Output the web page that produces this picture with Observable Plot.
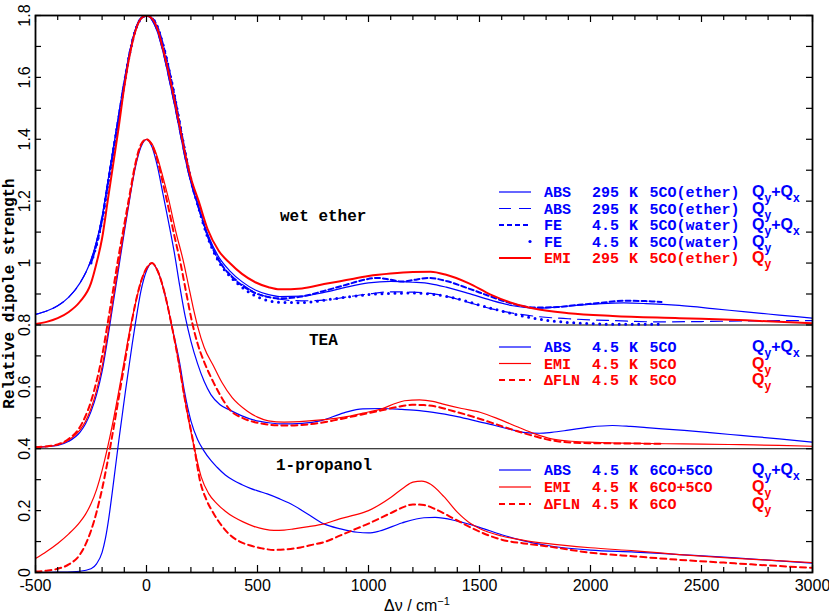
<!DOCTYPE html>
<html>
<head>
<meta charset="utf-8">
<script src="https://cdn.jsdelivr.net/npm/d3@7"></script>
<script src="https://cdn.jsdelivr.net/npm/@observablehq/plot@0.6"></script>
<style>
html,body{margin:0;padding:0;background:#fff;}
#chart{width:829px;height:616px;}
</style>
</head>
<body>
<div id="chart"></div>
<script>
// ---------------- data ----------------
const xTickLabels = [-500, 0, 500, 1000, 1500, 2000, 2500, 3000];
const yTickLabels = [0, 0.2, 0.4, 0.6, 0.8, 1, 1.2, 1.4, 1.6, 1.8];
const panelBreaks = [0.4, 0.8];
const panelNames = ["wet ether", "TEA", "1-propanol"];

// wet ether panel
const etherAbsQyQx = [[-500,0.834],[-450,0.845],[-400,0.862],[-350,0.89],[-300,0.935],[-250,1.01],[-225,1.07],[-200,1.15],[-175,1.26],[-150,1.37],[-125,1.48],[-100,1.59],[-75,1.685],[-50,1.755],[-25,1.792],[0,1.80],[25,1.785],[50,1.745],[75,1.68],[100,1.60],[125,1.515],[150,1.425],[175,1.335],[200,1.26],[235,1.18],[275,1.095],[325,1.02],[375,0.975],[430,0.94],[490,0.913],[550,0.898],[600,0.892],[700,0.893],[800,0.905],[900,0.922],[1000,0.936],[1100,0.941],[1200,0.938],[1280,0.933],[1350,0.922],[1450,0.902],[1550,0.88],[1650,0.862],[1750,0.854],[1850,0.858],[1950,0.864],[2050,0.869],[2150,0.871],[2250,0.869],[2400,0.863],[2550,0.853],[2700,0.842],[2850,0.832],[3000,0.822]];
const etherAbsQy = [[-500,0.834],[-450,0.845],[-400,0.862],[-350,0.89],[-300,0.935],[-250,1.01],[-225,1.07],[-200,1.15],[-175,1.26],[-150,1.37],[-125,1.48],[-100,1.59],[-75,1.685],[-50,1.755],[-25,1.792],[0,1.80],[25,1.785],[50,1.745],[75,1.68],[100,1.60],[125,1.515],[150,1.425],[175,1.335],[200,1.26],[235,1.175],[275,1.09],[325,1.01],[375,0.965],[430,0.932],[490,0.905],[550,0.89],[600,0.883],[700,0.878],[800,0.88],[900,0.89],[1000,0.9],[1100,0.907],[1200,0.906],[1280,0.902],[1350,0.893],[1450,0.873],[1550,0.853],[1650,0.838],[1750,0.828],[1900,0.82],[2100,0.814],[2300,0.81],[2500,0.811],[2700,0.813],[3000,0.814]];
const waterFeQyQx = [[-250,1.0],[-225,1.06],[-200,1.14],[-175,1.25],[-150,1.36],[-125,1.47],[-100,1.58],[-75,1.68],[-50,1.752],[-25,1.79],[0,1.80],[25,1.792],[50,1.762],[75,1.705],[100,1.63],[125,1.545],[150,1.45],[175,1.355],[200,1.27],[235,1.18],[275,1.088],[325,1.01],[375,0.962],[430,0.928],[490,0.903],[550,0.89],[600,0.886],[700,0.892],[800,0.91],[900,0.93],[975,0.945],[1040,0.952],[1100,0.946],[1150,0.94],[1200,0.945],[1270,0.952],[1350,0.942],[1450,0.918],[1550,0.892],[1650,0.868],[1750,0.856],[1850,0.858],[1950,0.865],[2050,0.872],[2150,0.878],[2250,0.877],[2320,0.874]];
const waterFeQy = [[-250,1.0],[-225,1.06],[-200,1.14],[-175,1.25],[-150,1.36],[-125,1.47],[-100,1.58],[-75,1.68],[-50,1.752],[-25,1.79],[0,1.80],[25,1.792],[50,1.762],[75,1.705],[100,1.63],[125,1.545],[150,1.45],[175,1.355],[200,1.27],[235,1.178],[275,1.085],[325,1.005],[375,0.958],[430,0.922],[490,0.894],[550,0.878],[600,0.873],[700,0.872],[800,0.88],[900,0.89],[1000,0.898],[1100,0.902],[1200,0.903],[1300,0.898],[1400,0.885],[1500,0.864],[1600,0.845],[1700,0.828],[1800,0.815],[1900,0.808],[2000,0.804],[2100,0.802],[2200,0.802],[2320,0.802]];
const etherEmiQy = [[-500,0.803],[-450,0.81],[-400,0.822],[-350,0.842],[-300,0.875],[-250,0.935],[-225,1.0],[-200,1.08],[-175,1.2],[-150,1.32],[-125,1.44],[-100,1.57],[-75,1.675],[-50,1.75],[-25,1.79],[0,1.80],[25,1.79],[50,1.755],[75,1.69],[100,1.615],[125,1.53],[150,1.44],[175,1.35],[200,1.275],[235,1.2],[275,1.11],[325,1.04],[375,1.0],[430,0.965],[490,0.938],[550,0.922],[600,0.915],[700,0.918],[800,0.932],[900,0.945],[1000,0.958],[1100,0.966],[1200,0.971],[1280,0.972],[1350,0.962],[1450,0.935],[1550,0.898],[1650,0.87],[1750,0.852],[1900,0.838],[2100,0.829],[2400,0.822],[2700,0.815],[3000,0.805]];

// TEA panel
const teaAbs = [[-500,0.405],[-450,0.407],[-400,0.411],[-350,0.424],[-300,0.453],[-275,0.48],[-250,0.52],[-225,0.575],[-200,0.65],[-175,0.755],[-150,0.87],[-125,0.985],[-100,1.1],[-75,1.21],[-50,1.31],[-25,1.375],[0,1.40],[25,1.375],[50,1.31],[75,1.22],[100,1.13],[125,1.035],[150,0.925],[175,0.825],[200,0.748],[230,0.675],[260,0.617],[290,0.575],[330,0.543],[378,0.524],[430,0.506],[481,0.493],[550,0.484],[617,0.48],[700,0.482],[787,0.491],[889,0.516],[974,0.529],[1059,0.53],[1150,0.527],[1230,0.523],[1320,0.514],[1400,0.504],[1500,0.487],[1570,0.475],[1640,0.462],[1707,0.452],[1770,0.45],[1825,0.453],[1900,0.46],[1996,0.47],[2099,0.475],[2180,0.472],[2252,0.468],[2422,0.459],[2550,0.451],[2676,0.443],[2850,0.432],[3000,0.421]];
const teaEmi = [[-500,0.405],[-450,0.407],[-400,0.412],[-350,0.428],[-300,0.46],[-275,0.488],[-250,0.53],[-225,0.588],[-200,0.665],[-175,0.77],[-150,0.885],[-125,1.0],[-100,1.11],[-75,1.215],[-50,1.315],[-25,1.38],[0,1.40],[25,1.385],[50,1.34],[75,1.275],[100,1.205],[131,1.105],[168,1.0],[190,0.925],[210,0.857],[231,0.794],[260,0.727],[303,0.666],[340,0.614],[386,0.565],[453,0.522],[500,0.502],[549,0.49],[620,0.486],[719,0.489],[800,0.494],[889,0.502],[975,0.515],[1059,0.529],[1120,0.546],[1162,0.555],[1230,0.558],[1290,0.553],[1332,0.545],[1420,0.53],[1502,0.518],[1590,0.495],[1673,0.47],[1750,0.448],[1825,0.432],[1900,0.425],[1996,0.421],[2150,0.418],[2337,0.416],[2500,0.415],[2676,0.413],[2850,0.411],[3000,0.408]];
const teaFln = [[-500,0.405],[-450,0.408],[-400,0.414],[-350,0.432],[-300,0.47],[-275,0.505],[-250,0.553],[-225,0.618],[-200,0.7],[-175,0.805],[-150,0.915],[-125,1.025],[-100,1.125],[-75,1.225],[-50,1.322],[-25,1.383],[0,1.40],[25,1.38],[50,1.33],[75,1.255],[100,1.175],[125,1.09],[153,1.0],[180,0.9],[205,0.81],[230,0.74],[260,0.68],[300,0.617],[333,0.572],[378,0.524],[430,0.5],[481,0.487],[550,0.478],[617,0.475],[700,0.477],[787,0.484],[860,0.494],[940,0.506],[1059,0.524],[1130,0.535],[1196,0.542],[1250,0.541],[1298,0.537],[1380,0.522],[1468,0.504],[1550,0.485],[1638,0.464],[1730,0.444],[1825,0.427],[1910,0.42],[1996,0.418],[2150,0.417],[2320,0.416]];

// 1-propanol panel
const propAbs = [[-500,0.0],[-400,0.001],[-300,0.004],[-250,0.012],[-225,0.028],[-200,0.065],[-185,0.11],[-170,0.175],[-155,0.255],[-140,0.34],[-125,0.425],[-110,0.505],[-95,0.585],[-80,0.66],[-65,0.735],[-50,0.805],[-25,0.91],[0,0.975],[25,1.0],[50,0.975],[86,0.89],[113,0.8],[150,0.675],[171,0.585],[200,0.49],[230,0.43],[258,0.394],[290,0.362],[318,0.34],[355,0.315],[393,0.297],[430,0.284],[468,0.272],[505,0.263],[544,0.254],[600,0.238],[649,0.222],[724,0.19],[799,0.157],[874,0.141],[950,0.13],[1000,0.128],[1050,0.134],[1150,0.16],[1250,0.177],[1300,0.178],[1400,0.166],[1500,0.146],[1600,0.122],[1700,0.102],[1800,0.088],[2000,0.072],[2200,0.066],[2400,0.058],[2600,0.05],[2800,0.04],[3000,0.03]];
const propEmi = [[-500,0.045],[-450,0.068],[-400,0.094],[-350,0.125],[-300,0.163],[-275,0.188],[-250,0.222],[-225,0.268],[-200,0.33],[-175,0.405],[-150,0.49],[-125,0.585],[-100,0.685],[-75,0.785],[-50,0.868],[-25,0.94],[0,0.983],[25,1.0],[50,0.975],[86,0.89],[113,0.8],[146,0.675],[171,0.567],[216,0.4],[246,0.31],[280,0.255],[318,0.222],[355,0.198],[393,0.179],[440,0.162],[483,0.149],[530,0.14],[574,0.136],[620,0.137],[664,0.141],[730,0.148],[799,0.157],[874,0.174],[940,0.186],[1000,0.2],[1100,0.242],[1160,0.275],[1200,0.292],[1240,0.295],[1280,0.285],[1340,0.245],[1400,0.195],[1460,0.158],[1500,0.142],[1600,0.118],[1700,0.104],[1800,0.094],[2000,0.08],[2200,0.07],[2400,0.058],[2600,0.048],[2800,0.04],[3000,0.032]];
const propFln = [[-500,0.003],[-450,0.006],[-400,0.012],[-350,0.026],[-300,0.058],[-275,0.09],[-250,0.135],[-225,0.195],[-200,0.27],[-175,0.36],[-150,0.46],[-125,0.565],[-100,0.67],[-75,0.775],[-50,0.87],[-25,0.94],[0,0.983],[25,1.0],[50,0.975],[86,0.89],[113,0.8],[146,0.675],[171,0.567],[216,0.4],[240,0.3],[270,0.235],[303,0.19],[340,0.15],[378,0.12],[420,0.1],[468,0.087],[520,0.078],[574,0.073],[634,0.075],[694,0.081],[750,0.09],[799,0.098],[874,0.12],[940,0.14],[1000,0.158],[1100,0.192],[1160,0.212],[1200,0.22],[1250,0.218],[1300,0.205],[1400,0.168],[1500,0.132],[1600,0.106],[1700,0.094],[1800,0.085],[2000,0.064],[2200,0.052],[2400,0.041],[2600,0.032],[2800,0.023],[3000,0.015]];

// legend texts
const legendEther = [
  ["ABS", "295", "5CO(ether)", "y", "x"],
  ["ABS", "295", "5CO(ether)", "y", null],
  ["FE",  "4.5", "5CO(water)", "y", "x"],
  ["FE",  "4.5", "5CO(water)", "y", null],
  ["EMI", "295", "5CO(ether)", "y", null]
];
const legendTEA = [
  ["ABS",  "4.5", "5CO", "y", "x"],
  ["EMI",  "4.5", "5CO", "y", null],
  ["ΔFLN", "4.5", "5CO", "y", null]
];
const legendProp = [
  ["ABS",  "4.5", "6CO+5CO", "y", "x"],
  ["EMI",  "4.5", "6CO+5CO", "y", null],
  ["ΔFLN", "4.5", "6CO",     "y", null]
];

// ---------------- styles ----------------
const BLUE = "#0000ff", RED = "#ff0000";
const MONO = "'Liberation Mono','DejaVu Sans Mono',monospace";
const SANS = "'Liberation Sans',Arial,sans-serif";
const st = {
  blueSolid: {stroke: BLUE, strokeWidth: 1.2},
  blueLong:  {stroke: BLUE, strokeWidth: 1.2, strokeDasharray: "12,7"},
  blueShort: {stroke: BLUE, strokeWidth: 2, strokeDasharray: "5,3"},
  blueDots:  {stroke: BLUE, strokeWidth: 3, strokeDasharray: "0,6.5", strokeLinecap: "round"},
  redThick:  {stroke: RED, strokeWidth: 2},
  redSolid:  {stroke: RED, strokeWidth: 1.2},
  redDash:   {stroke: RED, strokeWidth: 2, strokeDasharray: "6,4"}
};
const seriesList = [
  [etherAbsQy, st.blueLong], [waterFeQyQx, st.blueShort], [waterFeQy, st.blueDots],
  [etherAbsQyQx, st.blueSolid], [etherEmiQy, st.redThick],
  [teaAbs, st.blueSolid], [teaEmi, st.redSolid], [teaFln, st.redDash],
  [propAbs, st.blueSolid], [propEmi, st.redSolid], [propFln, st.redDash]
];

const W = 829, H = 616, mL = 35, mR = 17, mT = 15, mB = 44;
const plotW = W - mL - mR, plotH = H - mT - mB;
const xMinor = d3.range(-500, 3001, 100).filter(v => v % 500 !== 0);
const xMajor = d3.range(-500, 3001, 500);
const yMinor = d3.range(0, 18.5, 1).map(v => v / 10);

const plot = Plot.plot({
  width: W, height: H,
  marginLeft: mL, marginRight: mR, marginTop: mT, marginBottom: mB,
  x: {domain: [-500, 3000]},
  y: {domain: [0, 1.8]},
  style: {fontFamily: SANS, fontSize: "16px", background: "#fff", color: "#000"},
  marks: [
    Plot.ruleY(panelBreaks, {stroke: "#000", strokeWidth: 1.1}),
    ...seriesList.map(([d, s]) => Plot.line(d, {x: p => p[0], y: p => p[1], curve: "monotone-x", clip: true, ...s})),
    Plot.tickX(xMinor, {x: d => d, insetTop: plotH - 5, stroke: "#000", strokeWidth: 1.2}),
    Plot.tickX(xMajor, {x: d => d, insetTop: plotH - 7, stroke: "#000", strokeWidth: 1.2}),
    Plot.tickX(xMinor, {x: d => d, insetBottom: plotH - 5, stroke: "#000", strokeWidth: 1.2}),
    Plot.tickX(xMajor, {x: d => d, insetBottom: plotH - 7, stroke: "#000", strokeWidth: 1.2}),
    Plot.tickY(yMinor, {y: d => d, insetRight: plotW - 6, stroke: "#000", strokeWidth: 1.2}),
    Plot.tickY(yMinor, {y: d => d, insetLeft: plotW - 6, stroke: "#000", strokeWidth: 1.2}),
    Plot.axisX({ticks: xTickLabels, tickSize: 0, tickPadding: 7, tickFormat: d => String(d), label: null, fontSize: 16, fontFamily: SANS}),
    Plot.axisY({ticks: yTickLabels, tickSize: 0, tickRotate: -90, tickPadding: 5.5, tickFormat: d => String(d), label: null, fontSize: 16, fontFamily: SANS}),
    Plot.frame({stroke: "#000", strokeWidth: 1.8})
  ]
});
document.getElementById("chart").appendChild(plot);

// ---------------- overlay text (layout) ----------------
const svg = d3.select(plot);
const ov = svg.append("g").attr("font-family", MONO).attr("font-weight", "bold").attr("font-size", 16).attr("text-anchor", "start");

// panel names
const panelLabelPos = [[280, 221], [309, 345], [276, 470]];
panelNames.forEach((n, i) => ov.append("text").attr("x", panelLabelPos[i][0]).attr("y", panelLabelPos[i][1]).attr("fill", "#000").text(n));

// y title
ov.append("text").attr("transform", "translate(14,293.5) rotate(-90)").attr("text-anchor", "middle").attr("fill", "#000").text("Relative dipole strength");
// x title
const xt = ov.append("text").attr("x", 384).attr("y", 611).attr("font-family", SANS).attr("font-weight", "normal").attr("fill", "#000");
xt.append("tspan").text("Δν / cm");
xt.append("tspan").attr("dy", -6).attr("font-size", 11).text("−1");

function legend(rows, centers, styles) {
  rows.forEach((r, i) => {
    const cy = centers[i], base = cy + 5, s = styles[i];
    const color = s.stroke;
    if (s === st.blueDots) {
      ov.append("circle").attr("cx", 530).attr("cy", cy).attr("r", 1.6).attr("fill", color);
    } else {
      ov.append("line").attr("x1", 499).attr("x2", 531).attr("y1", cy).attr("y2", cy)
        .attr("stroke", color).attr("stroke-width", s.strokeWidth)
        .attr("stroke-dasharray", s === st.blueLong ? "12,8" : (s.strokeDasharray || null));
    }
    const cols = [[544, r[0]], [592, r[1]], [629, "K"], [649.5, r[2]]];
    cols.forEach(([x, t]) => ov.append("text").attr("x", x).attr("y", base).attr("fill", color).attr("font-size", 15).text(t));
    const q = ov.append("text").attr("x", 752).attr("y", base).attr("fill", color).attr("font-family", SANS).attr("font-size", 16);
    q.append("tspan").text("Q");
    q.append("tspan").attr("dy", 5).attr("font-size", 12).text(r[3]);
    if (r[4]) {
      q.append("tspan").attr("dy", -5).text("+Q");
      q.append("tspan").attr("dy", 5).attr("font-size", 12).text(r[4]);
    }
  });
}
legend(legendEther, [192, 208.5, 225, 241.5, 258], [st.blueSolid, st.blueLong, st.blueShort, st.blueDots, st.redThick]);
legend(legendTEA, [347, 363.5, 380], [st.blueSolid, st.redSolid, st.redDash]);
legend(legendProp, [470, 487, 504], [st.blueSolid, st.redSolid, st.redDash]);
</script>
</body>
</html>
